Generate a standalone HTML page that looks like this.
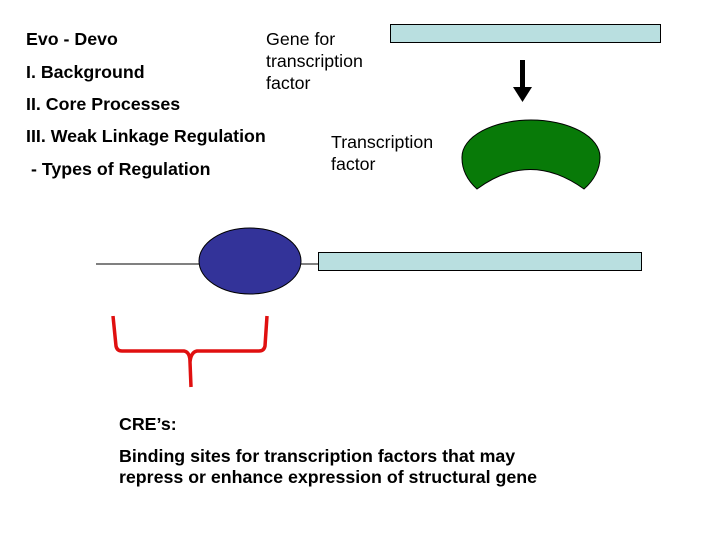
<!DOCTYPE html>
<html><head><style>
body{margin:0;width:720px;height:540px;background:#fff;position:relative;overflow:hidden;font-family:"Liberation Sans",sans-serif;}
.t{position:absolute;font-size:17.8px;white-space:nowrap;}
.b{font-weight:bold;}
</style></head><body>
<svg width="720" height="540" style="position:absolute;left:0;top:0">
<rect x="390.5" y="24.5" width="270" height="18" fill="#b9dfe0" stroke="#000"/>
<rect x="520" y="60" width="5" height="28" fill="#000"/>
<polygon points="513,87 532,87 522.5,102" fill="#000"/>
<path d="M477,189 A69,50 0 0 1 462,157 A69,37 0 0 1 600,157 A69,50 0 0 1 584,189 Q530,150 477,189 Z" fill="#087a08" stroke="#000" stroke-width="1"/>
<line x1="96" y1="264" x2="318" y2="264" stroke="#000"/>
<rect x="318.5" y="252.5" width="323" height="18" fill="#b9dfe0" stroke="#000"/>
<ellipse cx="250" cy="261" rx="51" ry="33" fill="#333399" stroke="#000"/>
<path d="M113,316 L116,346 Q117,351 122,351 L184,351 Q190,352 190,362 L191,387 M267,316 L265,346 Q264,351 259,351 L197,351 Q191,352 190,362" fill="none" stroke="#e01010" stroke-width="3.5"/>
</svg>
<div class="t b" style="left:26px;top:29px">Evo - Devo</div>
<div class="t b" style="left:26px;top:62px">I. Background</div>
<div class="t b" style="left:26px;top:94px">II. Core Processes</div>
<div class="t b" style="left:26px;top:126px">III. Weak Linkage Regulation</div>
<div class="t b" style="left:31px;top:159px">- Types of Regulation</div>
<div class="t" style="left:266px;top:28px;line-height:22px">Gene for<br>transcription<br>factor</div>
<div class="t" style="left:331px;top:131px;line-height:22px">Transcription<br>factor</div>
<div class="t b" style="left:119px;top:414px">CRE’s:</div>
<div class="t b" style="left:119px;top:446px;line-height:21px">Binding sites for transcription factors that may<br>repress or enhance expression of structural gene</div>
</body></html>
